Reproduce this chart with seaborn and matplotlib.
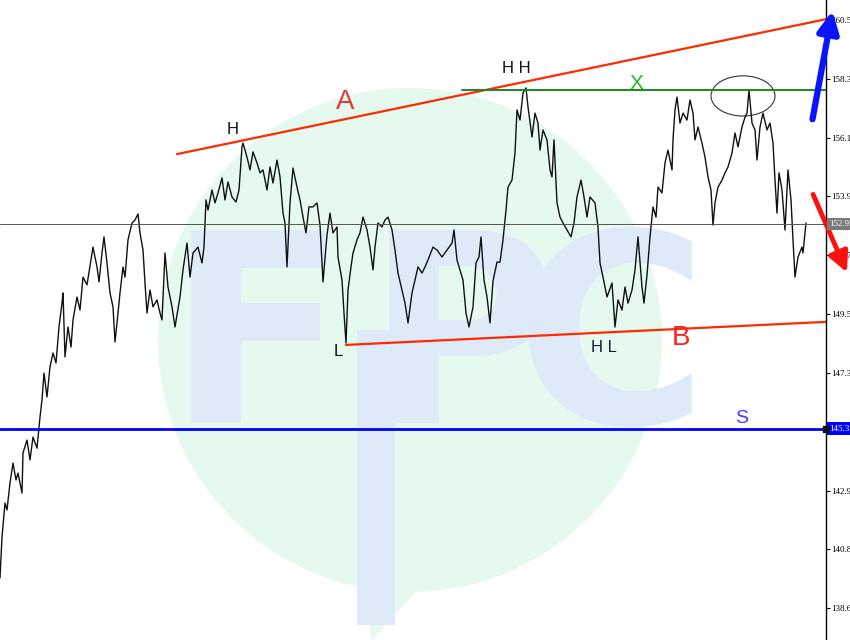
import matplotlib
matplotlib.use("Agg")
import matplotlib.pyplot as plt
import matplotlib.transforms as mtransforms
import seaborn as sns
from matplotlib.patches import Circle, Ellipse, Polygon, Rectangle

# price series (bar index, price)
bars = [0, 2, 5, 7, 10, 13, 16, 18, 22, 23, 27, 30, 33, 37, 40, 42, 44, 47, 50, 53,
        56, 59, 62, 63, 65, 68, 71, 73, 77, 80, 83, 87, 91, 93, 97, 99, 102, 104, 107, 110,
        113, 115, 117, 120, 123, 125, 128, 132, 135, 138, 140, 143, 145, 147, 150, 153, 157, 160, 162, 165,
        168, 172, 175, 180, 183, 187, 190, 193, 198, 202, 204, 206, 208, 212, 215, 218, 222, 225, 228, 232,
        236, 239, 242, 243, 247, 250, 253, 257, 260, 263, 267, 270, 273, 277, 280, 283, 285, 287, 290, 293,
        297, 300, 303, 306, 309, 313, 317, 320, 323, 327, 330, 333, 337, 338, 342, 344, 346, 348, 351, 353,
        357, 360, 363, 367, 370, 373, 375, 378, 382, 385, 388, 392, 395, 398, 402, 405, 408, 412, 415, 418,
        422, 425, 428, 433, 437, 442, 447, 452, 454, 457, 460, 463, 466, 469, 473, 476, 479, 481, 484, 487,
        490, 493, 497, 500, 503, 506, 508, 512, 515, 517, 520, 523, 526, 528, 532, 535, 538, 540, 543, 547,
        550, 552, 554, 557, 560, 563, 567, 571, 574, 577, 581, 584, 587, 590, 595, 598, 600, 603, 607, 612,
        615, 618, 622, 625, 628, 632, 635, 638, 642, 644, 647, 650, 653, 656, 658, 662, 665, 668, 672, 673,
        675, 677, 680, 683, 687, 690, 693, 695, 698, 702, 705, 708, 711, 713, 715, 718, 722, 725, 728, 732,
        735, 738, 742, 745, 747, 749, 752, 755, 757, 760, 763, 767, 770, 773, 775, 777, 779, 782, 785, 788,
        791, 793, 795, 798, 802, 803, 806]
prices = [139.73, 141.26, 142.53, 142.27, 143.28, 144.02, 143.39, 143.65, 142.90, 144.40,
          144.88, 144.14, 144.99, 144.58, 145.74, 146.38, 147.38, 146.49, 147.61, 148.13,
          147.76, 149.10, 149.99, 150.37, 147.98, 149.10, 148.35, 149.36, 150.22, 149.73,
          150.96, 150.67, 151.60, 152.08, 151.34, 150.78, 151.86, 152.46, 151.49, 150.37,
          149.85, 148.54, 149.25, 150.37, 151.34, 150.96, 152.35, 152.98, 153.09, 153.32,
          152.61, 151.97, 150.74, 149.62, 150.48, 149.85, 150.11, 149.62, 149.36, 151.86,
          150.59, 149.85, 149.10, 150.22, 151.23, 152.23, 150.96, 151.86, 152.08, 151.49,
          152.08, 153.84, 153.46, 154.21, 153.73, 154.10, 154.66, 153.84, 154.51, 153.95,
          153.76, 154.21, 155.82, 155.96, 155.44, 154.96, 155.63, 155.22, 154.85, 154.96,
          154.21, 155.07, 154.47, 155.33, 154.70, 153.35, 152.98, 151.34, 153.73, 155.03,
          154.32, 153.84, 153.20, 152.61, 153.58, 153.58, 153.73, 152.90, 150.78, 152.53,
          153.35, 152.61, 152.83, 151.71, 150.85, 149.62, 148.50, 150.48, 151.34, 151.86,
          152.35, 152.61, 153.20, 152.72, 152.08, 151.23, 152.08, 152.98, 152.83, 153.09,
          153.20, 152.72, 151.97, 151.11, 150.48, 149.99, 149.25, 150.37, 150.85, 151.34,
          151.11, 151.34, 151.60, 152.08, 151.97, 151.71, 151.97, 152.23, 152.72, 151.60,
          151.23, 150.85, 149.62, 149.10, 149.85, 151.49, 151.71, 152.46, 150.85, 150.22,
          149.25, 150.82, 151.52, 151.52, 152.35, 153.46, 154.32, 154.58, 155.59, 157.20,
          156.82, 157.83, 158.02, 157.31, 156.19, 157.08, 156.71, 155.70, 156.45, 156.08,
          154.96, 154.70, 156.08, 153.73, 153.20, 152.98, 152.72, 152.46, 152.98, 153.95,
          154.58, 153.95, 153.20, 153.95, 153.73, 152.83, 151.49, 150.96, 150.22, 150.74,
          149.10, 150.11, 149.73, 150.59, 149.99, 150.48, 151.23, 152.46, 150.59, 149.99,
          151.04, 152.46, 153.58, 153.20, 154.32, 154.10, 155.22, 155.70, 154.96, 156.08,
          157.20, 157.68, 156.71, 157.08, 156.82, 157.57, 157.08, 156.08, 156.56, 155.96,
          155.44, 154.70, 154.21, 152.90, 153.73, 154.32, 154.58, 154.85, 155.07, 155.59,
          156.34, 155.82, 156.56, 156.93, 157.08, 157.94, 156.71, 156.45, 155.33, 156.56,
          157.08, 156.45, 156.71, 155.96, 154.58, 153.35, 154.85, 154.21, 152.72, 154.96,
          153.84, 152.35, 150.96, 151.71, 152.08, 151.86, 152.98]

price_ticks = [138.60, 140.80, 142.99, 145.19, 147.38, 149.58, 151.77, 153.97, 156.16, 158.36, 160.55]
last_price = 152.93
support_s = 145.31

# trend lines (bar, price)
line_a_bars = [177, 832]
line_a_prices = [155.55, 160.63]
line_b_bars = [346, 826]
line_b_prices = [148.43, 149.29]
line_x_bars = [462, 826]
line_x_prices = [157.94, 157.94]

sns.set_theme(style="white")
plt.rcParams["font.family"] = ["Liberation Sans", "DejaVu Sans"]

fig = plt.figure(figsize=(8.5, 6.4), dpi=100)

# watermark layer (pixel coordinates)
bg = fig.add_axes([0, 0, 1, 1])
bg.set_xlim(0, 850)
bg.set_ylim(640, 0)
bg.axis("off")
mint = "#e6f9ee"
wm_blue = "#dfeaf8"
bg.add_patch(Circle((410, 340), 252, color=mint, lw=0))
bg.add_patch(Polygon([(360, 560), (445, 560), (372, 640)], closed=True, color=mint, lw=0))
bg.add_patch(Rectangle((357, 330), 38, 295, color=wm_blue, lw=0))
for ch, xc in [("F", 257), ("P", 462), ("C", 612)]:
    bg.text(xc, 350, ch, fontsize=190, fontweight="bold", color=wm_blue,
            ha="center", va="center", family="DejaVu Sans")

ax = fig.add_axes([0, 0, 826 / 850, 1])
ax.patch.set_alpha(0)

sns.lineplot(x=bars, y=prices, ax=ax, color="#111111", lw=1.0)

ax.set_xlim(0, 826)
ax.set_ylim(137.42, 161.30)
ax.set_xticks([])
ax.set_xlabel("")
ax.set_ylabel("")
ax.yaxis.tick_right()
ax.set_yticks(price_ticks)
ax.set_yticklabels([f"{t:.2f}" for t in price_ticks])
ax.tick_params(axis="y", direction="out", length=3, width=0.8, colors="black",
               labelsize=6.5, pad=0.5)
for lbl in ax.get_yticklabels():
    lbl.set_family("Liberation Serif")
for side in ["left", "top", "bottom"]:
    ax.spines[side].set_visible(False)
ax.spines["right"].set_color("black")
ax.spines["right"].set_linewidth(1)

# horizontal levels
ax.axhline(last_price, color="#555555", lw=0.7)
ax.axhline(support_s, color="#0000ff", lw=2)

# trend lines
ax.plot(line_a_bars, line_a_prices, color="#ff2a00", lw=1.6, clip_on=False)
ax.plot(line_b_bars, line_b_prices, color="#ff2a00", lw=1.6)
ax.plot(line_x_bars, line_x_prices, color="#1a8a1a", lw=1.4)

ax.add_patch(Ellipse((743, 157.72), 64, 1.5, fill=False, ec="#333333", lw=0.8))

# arrows
ax.annotate("", xy=(833, 161.0), xytext=(812, 156.75), annotation_clip=False,
            arrowprops=dict(arrowstyle="-|>", color="#0a14ff", lw=4.5, mutation_scale=32))
ax.annotate("", xy=(848, 151.04), xytext=(812, 154.14), annotation_clip=False,
            arrowprops=dict(arrowstyle="-|>", color="#ff1010", lw=3.5, mutation_scale=30))

# labels
ax.text(233, 156.48, "H", fontsize=12, color="#111111", ha="center", va="center")
ax.text(345, 157.49, "A", fontsize=20, color="#e03a30", ha="center", va="center")
ax.text(516, 158.76, "H H", fontsize=12, color="#111111", ha="center", va="center")
ax.text(636, 158.20, "X", fontsize=15, color="#22bb22", ha="center", va="center")
ax.text(338, 148.17, "L", fontsize=12, color="#111111", ha="center", va="center")
ax.text(604, 148.35, "H L", fontsize=12, color="#1a1a3a", ha="center", va="center")
ax.text(681, 148.69, "B", fontsize=20, color="#ff2020", ha="center", va="center")
ax.text(742, 145.70, "S", fontsize=14, color="#4a3cff", ha="center", va="center")

# price boxes on the axis
trans = mtransforms.blended_transform_factory(ax.transAxes, ax.transData)
ax.text(1.004, last_price, f"{last_price:.2f}", transform=trans, fontsize=6.5,
        family="Liberation Serif", color="white", va="center", ha="left", clip_on=False,
        zorder=10, bbox=dict(fc="#7a7a7a", ec="none", pad=1.5))
ax.text(1.004, support_s, f"{support_s:.2f}", transform=trans, fontsize=6.5,
        family="Liberation Serif", color="white", va="center", ha="left", clip_on=False,
        zorder=10, bbox=dict(fc="#0000ff", ec="none", pad=1.5))
ax.scatter([826], [support_s], marker="s", s=14, color="#111111", clip_on=False, zorder=11)

fig.savefig("out.png", dpi=100)
